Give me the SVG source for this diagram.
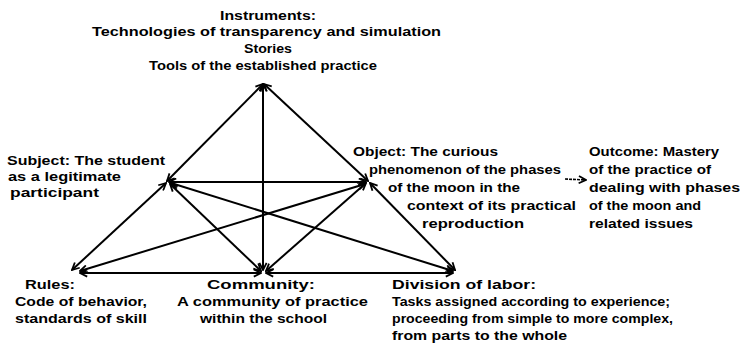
<svg xmlns="http://www.w3.org/2000/svg" width="746" height="357" viewBox="0 0 746 357">
<style>
text{font-family:"Liberation Sans",Arial,sans-serif;font-size:13px;font-weight:bold;fill:#000}
.c{stroke:#000;stroke-width:2;fill:none;marker-start:url(#ah);marker-end:url(#ah)}
.s{stroke:#000;stroke-width:1.6;fill:none;stroke-dasharray:3 1;marker-end:url(#ah)}
</style>
<defs>
<marker id="ah" viewBox="0 0 10 10" refX="9" refY="5" markerWidth="9" markerHeight="9" markerUnits="userSpaceOnUse" orient="auto-start-reverse">
<path d="M1,1 L9,5 L1,9" fill="none" stroke="#000" stroke-width="2"/>
</marker>
</defs>
<rect width="746" height="357" fill="#fff"/>
<g id="connectors">
<line class="c" x1="263" y1="84" x2="167" y2="181"/>
<line class="c" x1="264" y1="84" x2="368" y2="181"/>
<line class="c" x1="263" y1="84" x2="263" y2="270"/>
<line class="c" x1="169" y1="182" x2="366" y2="182"/>
<line class="c" x1="166" y1="183" x2="72" y2="270"/>
<line class="c" x1="170" y1="184" x2="261" y2="271"/>
<line class="c" x1="171" y1="183" x2="453" y2="271"/>
<line class="c" x1="366" y1="183" x2="266" y2="271"/>
<line class="c" x1="365" y1="184" x2="80" y2="271"/>
<line class="c" x1="370" y1="183" x2="455" y2="270"/>
<line class="c" x1="80" y1="273" x2="261" y2="273"/>
<line class="c" x1="266" y1="273" x2="453" y2="273"/>
<line class="s" x1="565" y1="179" x2="586" y2="180"/>
</g>
<g id="instruments">
<text x="220" y="20" textLength="96" lengthAdjust="spacingAndGlyphs">Instruments:</text>
<text x="92" y="36" textLength="349" lengthAdjust="spacingAndGlyphs">Technologies of transparency and simulation</text>
<text x="244" y="53" textLength="48" lengthAdjust="spacingAndGlyphs">Stories</text>
<text x="149" y="70" textLength="228" lengthAdjust="spacingAndGlyphs">Tools of the established practice</text>
</g>
<g id="subject">
<text x="7" y="165" textLength="158" lengthAdjust="spacingAndGlyphs">Subject: The student</text>
<text x="8" y="181" textLength="113" lengthAdjust="spacingAndGlyphs">as a legitimate</text>
<text x="10" y="197" textLength="89" lengthAdjust="spacingAndGlyphs">participant</text>
</g>
<g id="object">
<text x="353" y="156" textLength="145" lengthAdjust="spacingAndGlyphs">Object: The curious</text>
<text x="369" y="174" textLength="192" lengthAdjust="spacingAndGlyphs">phenomenon of the phases</text>
<text x="388" y="192" textLength="132" lengthAdjust="spacingAndGlyphs">of the moon in the</text>
<text x="407" y="210" textLength="169" lengthAdjust="spacingAndGlyphs">context of its practical</text>
<text x="422" y="228" textLength="102" lengthAdjust="spacingAndGlyphs">reproduction</text>
</g>
<g id="outcome">
<text x="589" y="156" textLength="130" lengthAdjust="spacingAndGlyphs">Outcome: Mastery</text>
<text x="589" y="174" textLength="122" lengthAdjust="spacingAndGlyphs">of the practice of</text>
<text x="589" y="192" textLength="151" lengthAdjust="spacingAndGlyphs">dealing with phases</text>
<text x="589" y="210" textLength="112" lengthAdjust="spacingAndGlyphs">of the moon and</text>
<text x="589" y="228" textLength="104" lengthAdjust="spacingAndGlyphs">related issues</text>
</g>
<g id="rules">
<text x="25" y="289" textLength="50" lengthAdjust="spacingAndGlyphs">Rules:</text>
<text x="15" y="306" textLength="132" lengthAdjust="spacingAndGlyphs">Code of behavior,</text>
<text x="15" y="323" textLength="132" lengthAdjust="spacingAndGlyphs">standards of skill</text>
</g>
<g id="community">
<text x="207" y="289" textLength="108" lengthAdjust="spacingAndGlyphs">Community:</text>
<text x="177" y="306" textLength="191" lengthAdjust="spacingAndGlyphs">A community of practice</text>
<text x="200" y="323" textLength="127" lengthAdjust="spacingAndGlyphs">within the school</text>
</g>
<g id="division">
<text x="392" y="289" textLength="144" lengthAdjust="spacingAndGlyphs">Division of labor:</text>
<text x="392" y="306" textLength="278" lengthAdjust="spacingAndGlyphs">Tasks assigned according to experience;</text>
<text x="392" y="323" textLength="281" lengthAdjust="spacingAndGlyphs">proceeding from simple to more complex,</text>
<text x="392" y="340" textLength="175" lengthAdjust="spacingAndGlyphs">from parts to the whole</text>
</g>
</svg>
